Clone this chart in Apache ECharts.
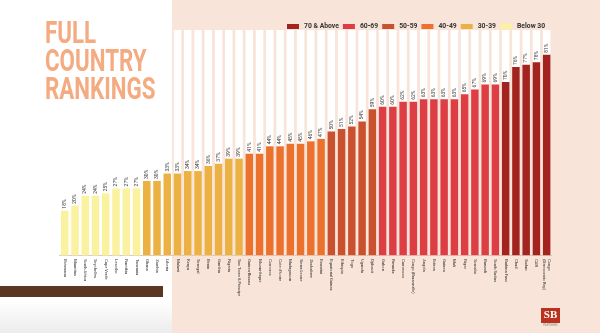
<!DOCTYPE html>
<html>
<head>
<meta charset="utf-8">
<script src="https://cdn.jsdelivr.net/npm/echarts@6/dist/echarts.min.js"></script>
<style>html,body{margin:0;padding:0;background:#fff}#c{width:600px;height:333px}</style>
</head>
<body>
<div id="c"></div>
<script>
const categories = ['Botswana','Mauritius','South Africa','Seychelles','Cape Verde','Lesotho','Namibia','Tanzania',
  'Ghana','Zambia','Liberia','Malawi','Kenya','Senegal','Benin','Gambia','Nigeria','Sao Tome & Principe',
  'Guinea-Bissau','Mozambique','Comoros',"Cote d'Ivoire",'Madagascar','Sierra Leone','Zimbabwe','Eswatini',
  'Equatorial Guinea','Ethiopia','Togo','Uganda','Djibouti',
  'Gabon','Rwanda','Cameroon','Congo (Brazzaville)','Angola','Eritrea','Guinea','Mali','Niger','Somalia','Burundi','South Sudan',
  'Burkina Faso','Chad','Sudan','CAR','Congo\n(Democratic Rep)'];
const values = [18,20,24,24,25,27,27,27,
  30,30,33,33,34,34,36,37,39,39,
  41,41,44,44,45,45,46,47,
  50,51,52,54,59,
  60,60,62,62,63,63,63,63,65,67,69,69,
  70,76,77,78,81];
const groupNames = ['70 & Above','60-69','50-59','40-49','30-39','Below 30'];
const groupMins = [70,60,50,40,30,-Infinity];
const groupColors = ['#a3231f','#dc3e44','#c9512e','#ec712d','#ebb142','#fbf29f'];
const titleLines = ['FULL','COUNTRY','RANKINGS'];

function groupOf(v){ for (let i=0;i<groupMins.length;i++){ if (v>=groupMins[i]) return i; } return groupMins.length-1; }

const chart = echarts.init(document.getElementById('c'), null, {renderer:'canvas'});
const series = groupNames.map((name, gi) => ({
  name: name,
  type: 'bar',
  barWidth: 7.5,
  barGap: '-100%',
  showBackground: gi === 0,
  backgroundStyle: {color: '#ffffff'},
  itemStyle: {color: groupColors[gi]},
  label: {show: true, position: 'top', rotate: 90, align: 'left', verticalAlign: 'middle', distance: 2,
    fontSize: 5, color: '#333', fontFamily: 'Roboto', formatter: p => p.value + '%'},
  data: values.map(v => groupOf(v) === gi ? v : '-')
}));

const graphics = [
  {type:'rect', z:-10, shape:{x:172, y:0, width:428, height:333}, style:{fill:'#f9e4d9'}},
  {type:'rect', z:-9, shape:{x:0, y:300, width:172, height:33}, style:{fill:new echarts.graphic.LinearGradient(0,0,0,1,[{offset:0,color:'#ffffff'},{offset:1,color:'#ececec'}])}},
  {type:'rect', z:5, shape:{x:0, y:286, width:163, height:11}, style:{fill:'#5b3621'}},
  {type:'rect', z:5, shape:{x:541, y:308, width:19, height:15}, style:{fill:'#b8321f'}},
  {type:'text', z:6, x:550.5, y:315.5, style:{text:'SB', fill:'#fff', font:'bold 11px "Liberation Serif"', textAlign:'center', textVerticalAlign:'middle', align:'center', verticalAlign:'middle'}},
  {type:'text', z:6, x:550.5, y:325, style:{text:'PARTNERS', fill:'#888', font:'3px Roboto', textAlign:'center', textVerticalAlign:'middle', align:'center', verticalAlign:'middle'}}
];
titleLines.forEach((t, i) => {
  graphics.push({type:'text', z:10, x:45, y:35 + i*28.3, scaleX:0.72, originX:0, originY:0,
    style:{text:t, fill:'#f4ab82', font:'bold 31px Roboto', textAlign:'left', textVerticalAlign:'middle', align:'left', verticalAlign:'middle'}});
});

chart.setOption({
  backgroundColor: '#ffffff',
  animation: false,
  legend: {
    data: groupNames, left: 282, top: 18, icon: 'rect', itemWidth: 12, itemHeight: 5, itemGap: 4,
    textStyle: {fontSize: 6.8, fontWeight: 'bold', color: '#333', fontFamily: 'Roboto'},
    selectedMode: false
  },
  grid: {left: 59.6, right: 48.2, top: 30, bottom: 77.8, containLabel: false},
  xAxis: {
    type: 'category', data: categories,
    axisLine: {show: true, lineStyle: {color: '#dcc6b8', width: 1}},
    axisTick: {show: false},
    axisLabel: {interval: 0, rotate: -90, fontSize: 4, color: '#333', margin: 4, lineHeight: 4.5, fontFamily: 'Roboto'}
  },
  yAxis: {type: 'value', min: 0, max: 91, show: false, splitLine: {show: false}},
  series: series,
  graphic: graphics
});
</script>
</body>
</html>
